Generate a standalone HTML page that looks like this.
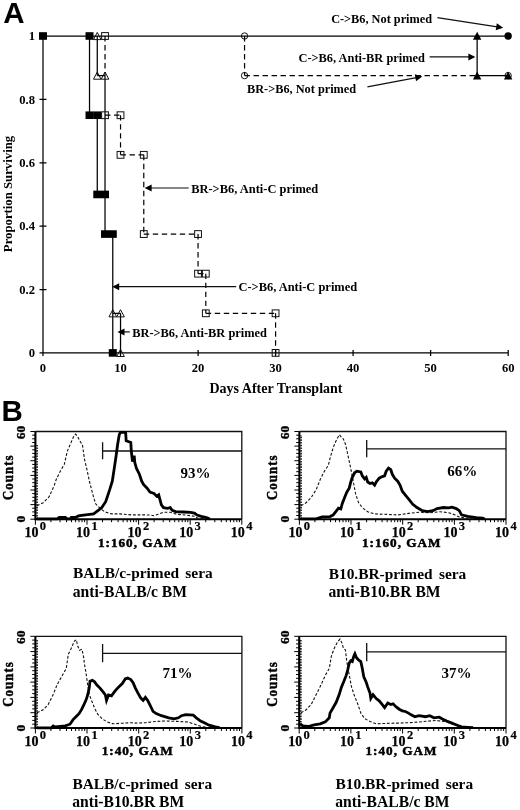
<!DOCTYPE html>
<html><head><meta charset="utf-8"><style>
html,body{margin:0;padding:0;background:#fff;}
svg{display:block;will-change:transform;}
</style></head><body>
<svg width="520" height="810" viewBox="0 0 520 810">
<rect width="520" height="810" fill="#fff"/>
<text x="3.3" y="23" font-family="Liberation Sans" font-weight="bold" font-size="29.5">A</text>
<text x="1.5" y="421" font-family="Liberation Sans" font-weight="bold" font-size="29.5">B</text>
<path d="M43.0 352.9 H508.15000000000003 M43.0 352.9 V36.0 M43.0 349.9 v6 M120.5 349.9 v6 M198.1 349.9 v6 M275.6 349.9 v6 M353.1 349.9 v6 M430.6 349.9 v6 M508.2 349.9 v6 M39.5 352.9 h7 M39.5 289.5 h7 M39.5 226.1 h7 M39.5 162.8 h7 M39.5 99.4 h7 M39.5 36.0 h7 M43.00 36.00 H508.15 M477.14 36.00 V75.61 M477.14 75.61 H508.15 M89.52 36.00 V115.22 M89.52 115.22 H97.27 M97.27 115.22 V194.45 M97.27 194.45 H105.02 M105.02 194.45 V234.06 M105.02 234.06 H112.77 M112.77 234.06 V352.90 M97.27 36.00 V75.61 M97.27 75.61 H105.02 M105.02 75.61 V234.06 M112.77 234.06 V313.29 M112.77 313.29 H120.53 M120.53 313.29 V352.90 " stroke="#000" stroke-width="1.25" fill="none"/>
<path d="M105.02 36.00 V75.61 M105.02 115.22 H120.53 M120.53 115.22 V154.84 M120.53 154.84 H143.78 M143.78 154.84 V234.06 M143.78 234.06 H198.05 M198.05 234.06 V273.67 M198.05 273.67 H205.80 M205.80 273.67 V313.29 M205.80 313.29 H275.58 M275.58 313.29 V352.90 M244.56 36.00 V75.61 M244.56 75.61 H477.14 " stroke="#000" stroke-width="1.2" fill="none" stroke-dasharray="5.4 3.6"/>
<text x="43.0" y="372.3" font-family="Liberation Serif" font-weight="bold" font-size="12.6" text-anchor="middle">0</text>
<text x="120.5" y="372.3" font-family="Liberation Serif" font-weight="bold" font-size="12.6" text-anchor="middle">10</text>
<text x="198.1" y="372.3" font-family="Liberation Serif" font-weight="bold" font-size="12.6" text-anchor="middle">20</text>
<text x="275.6" y="372.3" font-family="Liberation Serif" font-weight="bold" font-size="12.6" text-anchor="middle">30</text>
<text x="353.1" y="372.3" font-family="Liberation Serif" font-weight="bold" font-size="12.6" text-anchor="middle">40</text>
<text x="430.6" y="372.3" font-family="Liberation Serif" font-weight="bold" font-size="12.6" text-anchor="middle">50</text>
<text x="508.2" y="372.3" font-family="Liberation Serif" font-weight="bold" font-size="12.6" text-anchor="middle">60</text>
<text x="35" y="357.0" font-family="Liberation Serif" font-weight="bold" font-size="12.6" text-anchor="end">0</text>
<text x="35" y="293.6" font-family="Liberation Serif" font-weight="bold" font-size="12.6" text-anchor="end">0.2</text>
<text x="35" y="230.2" font-family="Liberation Serif" font-weight="bold" font-size="12.6" text-anchor="end">0.4</text>
<text x="35" y="166.9" font-family="Liberation Serif" font-weight="bold" font-size="12.6" text-anchor="end">0.6</text>
<text x="35" y="103.5" font-family="Liberation Serif" font-weight="bold" font-size="12.6" text-anchor="end">0.8</text>
<text x="35" y="40.1" font-family="Liberation Serif" font-weight="bold" font-size="12.6" text-anchor="end">1</text>
<text x="276" y="392.5" font-family="Liberation Serif" font-weight="bold" font-size="14" text-anchor="middle">Days After Transplant</text>
<text transform="translate(11.9 194) rotate(-90)" font-family="Liberation Serif" font-weight="bold" font-size="12.75" text-anchor="middle">Proportion Surviving</text>
<rect x="101.62" y="32.60" width="6.8" height="6.8" fill="none" stroke="#111" stroke-width="1"/>
<rect x="101.62" y="111.82" width="6.8" height="6.8" fill="none" stroke="#111" stroke-width="1"/>
<rect x="117.12" y="111.82" width="6.8" height="6.8" fill="none" stroke="#111" stroke-width="1"/>
<rect x="117.12" y="151.44" width="6.8" height="6.8" fill="none" stroke="#111" stroke-width="1"/>
<rect x="140.38" y="151.44" width="6.8" height="6.8" fill="none" stroke="#111" stroke-width="1"/>
<rect x="140.38" y="230.66" width="6.8" height="6.8" fill="none" stroke="#111" stroke-width="1"/>
<rect x="194.65" y="230.66" width="6.8" height="6.8" fill="none" stroke="#111" stroke-width="1"/>
<rect x="194.65" y="270.27" width="6.8" height="6.8" fill="none" stroke="#111" stroke-width="1"/>
<rect x="202.40" y="270.27" width="6.8" height="6.8" fill="none" stroke="#111" stroke-width="1"/>
<rect x="202.40" y="309.89" width="6.8" height="6.8" fill="none" stroke="#111" stroke-width="1"/>
<rect x="272.18" y="309.89" width="6.8" height="6.8" fill="none" stroke="#111" stroke-width="1"/>
<rect x="272.18" y="349.50" width="6.8" height="6.8" fill="none" stroke="#111" stroke-width="1"/>
<path d="M97.27 32.40 L101.07 39.60 L93.47 39.60 Z" fill="none" stroke="#111" stroke-width="1"/>
<path d="M97.27 72.01 L101.07 79.21 L93.47 79.21 Z" fill="none" stroke="#111" stroke-width="1"/>
<path d="M105.02 72.01 L108.82 79.21 L101.22 79.21 Z" fill="none" stroke="#111" stroke-width="1"/>
<path d="M112.77 309.69 L116.57 316.89 L108.97 316.89 Z" fill="none" stroke="#111" stroke-width="1"/>
<path d="M120.53 309.69 L124.33 316.89 L116.73 316.89 Z" fill="none" stroke="#111" stroke-width="1"/>
<path d="M120.53 349.30 L124.33 356.50 L116.73 356.50 Z" fill="none" stroke="#111" stroke-width="1"/>
<circle cx="244.56" cy="36.00" r="3.2" fill="none" stroke="#111" stroke-width="1"/>
<circle cx="244.56" cy="75.61" r="3.2" fill="none" stroke="#111" stroke-width="1"/>
<circle cx="508.15" cy="75.61" r="3.2" fill="none" stroke="#111" stroke-width="1"/>
<rect x="39.00" y="32.20" width="8" height="7.6" fill="#000"/>
<rect x="85.52" y="32.20" width="8" height="7.6" fill="#000"/>
<rect x="85.52" y="111.42" width="8" height="7.6" fill="#000"/>
<rect x="93.27" y="111.42" width="8" height="7.6" fill="#000"/>
<rect x="93.27" y="190.65" width="8" height="7.6" fill="#000"/>
<rect x="101.02" y="190.65" width="8" height="7.6" fill="#000"/>
<rect x="101.02" y="230.26" width="8" height="7.6" fill="#000"/>
<rect x="108.77" y="230.26" width="8" height="7.6" fill="#000"/>
<rect x="108.77" y="349.10" width="8" height="7.6" fill="#000"/>
<path d="M477.14 31.80 L481.34 39.80 L472.94 39.80 Z" fill="#000"/>
<path d="M477.14 71.41 L481.34 79.41 L472.94 79.41 Z" fill="#000"/>
<path d="M508.15 71.41 L512.35 79.41 L503.95 79.41 Z" fill="#000"/>
<circle cx="508.15" cy="36.00" r="3.7" fill="#000"/>
<path d="M437.40 17.60 L497.27 26.88" stroke="#111" stroke-width="1.2"/><path d="M503.20 27.80 L495.75 30.19 L496.82 23.27 Z" fill="#000"/>
<path d="M429.60 56.90 L469.40 56.90" stroke="#111" stroke-width="1.2"/><path d="M475.40 56.90 L468.40 60.40 L468.40 53.40 Z" fill="#000"/>
<path d="M367.40 86.80 L416.40 77.61" stroke="#111" stroke-width="1.2"/><path d="M422.30 76.50 L416.07 81.23 L414.77 74.35 Z" fill="#000"/>
<path d="M188.70 188.00 L150.60 188.00" stroke="#111" stroke-width="1.2"/><path d="M144.60 188.00 L151.60 184.50 L151.60 191.50 Z" fill="#000"/>
<path d="M236.20 286.70 L118.20 286.70" stroke="#111" stroke-width="1.2"/><path d="M112.20 286.70 L119.20 283.20 L119.20 290.20 Z" fill="#000"/>
<path d="M129.80 331.90 L123.50 331.90" stroke="#111" stroke-width="1.2"/><path d="M117.50 331.90 L124.50 328.40 L124.50 335.40 Z" fill="#000"/>
<text x="381.6" y="23.3" font-family="Liberation Serif" font-weight="bold" font-size="12.3" text-anchor="middle">C-&gt;B6, Not primed</text>
<text x="361.7" y="62" font-family="Liberation Serif" font-weight="bold" font-size="12.4" text-anchor="middle">C-&gt;B6, Anti-BR primed</text>
<text x="301.6" y="92.5" font-family="Liberation Serif" font-weight="bold" font-size="12.3" text-anchor="middle">BR-&gt;B6, Not primed</text>
<text x="254.7" y="192.9" font-family="Liberation Serif" font-weight="bold" font-size="12.45" text-anchor="middle">BR-&gt;B6, Anti-C primed</text>
<text x="297.8" y="290.6" font-family="Liberation Serif" font-weight="bold" font-size="12.45" text-anchor="middle">C-&gt;B6, Anti-C primed</text>
<text x="199.6" y="337" font-family="Liberation Serif" font-weight="bold" font-size="12.4" text-anchor="middle">BR-&gt;B6, Anti-BR primed</text>
<path d="M35.4 431.5 H241.8 V519.2" stroke="#111" stroke-width="1.3" fill="none"/>
<path d="M35.4 431.5 V519.2 H241.8" stroke="#000" stroke-width="2.1" fill="none"/>
<path d="M30.4 519.2 H35.4 M32.2 515.5 H35.4 M32.2 511.9 H35.4 M32.2 508.2 H35.4 M30.4 504.6 H35.4 M32.2 500.9 H35.4 M32.2 497.3 H35.4 M32.2 493.6 H35.4 M30.4 490.0 H35.4 M32.2 486.3 H35.4 M32.2 482.7 H35.4 M32.2 479.0 H35.4 M30.4 475.4 H35.4 M32.2 471.7 H35.4 M32.2 468.0 H35.4 M32.2 464.4 H35.4 M30.4 460.7 H35.4 M32.2 457.1 H35.4 M32.2 453.4 H35.4 M32.2 449.8 H35.4 M30.4 446.1 H35.4 M32.2 442.5 H35.4 M32.2 438.8 H35.4 M32.2 435.2 H35.4 M30.4 431.5 H35.4 M35.4 519.2 v5.5 M50.9 519.2 v3 M60.0 519.2 v3 M66.5 519.2 v3 M71.5 519.2 v3 M75.6 519.2 v3 M79.0 519.2 v3 M82.0 519.2 v3 M84.6 519.2 v3 M87.0 519.2 v5.5 M102.5 519.2 v3 M111.6 519.2 v3 M118.1 519.2 v3 M123.1 519.2 v3 M127.2 519.2 v3 M130.6 519.2 v3 M133.6 519.2 v3 M136.2 519.2 v3 M138.6 519.2 v5.5 M154.1 519.2 v3 M163.2 519.2 v3 M169.7 519.2 v3 M174.7 519.2 v3 M178.8 519.2 v3 M182.2 519.2 v3 M185.2 519.2 v3 M187.8 519.2 v3 M190.2 519.2 v5.5 M205.7 519.2 v3 M214.8 519.2 v3 M221.3 519.2 v3 M226.3 519.2 v3 M230.4 519.2 v3 M233.8 519.2 v3 M236.8 519.2 v3 M239.4 519.2 v3 M241.8 519.2 v5.5 " stroke="#000" stroke-width="1" fill="none"/>
<text x="24.4" y="537.0" font-family="Liberation Serif" font-weight="bold" font-size="14" stroke="#000" stroke-width="0.25">10</text>
<text x="39.8" y="530.2" font-family="Liberation Serif" font-weight="bold" font-size="12.5" stroke="#000" stroke-width="0.2">0</text>
<text x="76.0" y="537.0" font-family="Liberation Serif" font-weight="bold" font-size="14" stroke="#000" stroke-width="0.25">10</text>
<text x="91.4" y="530.2" font-family="Liberation Serif" font-weight="bold" font-size="12.5" stroke="#000" stroke-width="0.2">1</text>
<text x="127.6" y="537.0" font-family="Liberation Serif" font-weight="bold" font-size="14" stroke="#000" stroke-width="0.25">10</text>
<text x="143.0" y="530.2" font-family="Liberation Serif" font-weight="bold" font-size="12.5" stroke="#000" stroke-width="0.2">2</text>
<text x="179.2" y="537.0" font-family="Liberation Serif" font-weight="bold" font-size="14" stroke="#000" stroke-width="0.25">10</text>
<text x="194.6" y="530.2" font-family="Liberation Serif" font-weight="bold" font-size="12.5" stroke="#000" stroke-width="0.2">3</text>
<text x="230.8" y="537.0" font-family="Liberation Serif" font-weight="bold" font-size="14" stroke="#000" stroke-width="0.25">10</text>
<text x="246.2" y="530.2" font-family="Liberation Serif" font-weight="bold" font-size="12.5" stroke="#000" stroke-width="0.2">4</text>
<text x="137.7" y="546.6" font-family="Liberation Serif" font-weight="bold" font-size="13.2" letter-spacing="1.0" text-anchor="middle" stroke="#000" stroke-width="0.5">1:160, GAM</text>
<text transform="translate(12.8 477.2) rotate(-90) scale(1 1.1)" font-family="Liberation Serif" font-weight="bold" font-size="12.8" letter-spacing="1.1" text-anchor="middle" stroke="#000" stroke-width="0.45">Counts</text>
<text transform="translate(25.0 432.5) rotate(-90)" font-family="Liberation Serif" font-weight="bold" font-size="13.5" text-anchor="middle" stroke="#000" stroke-width="0.35">60</text>
<text transform="translate(25.0 519.2) rotate(-90)" font-family="Liberation Serif" font-weight="bold" font-size="13.5" text-anchor="middle" stroke="#000" stroke-width="0.35">0</text>
<path d="M102.6 442.2 V459.3 M102.6 451.0 H241.8" stroke="#111" stroke-width="1.3" fill="none"/>
<text x="180.5" y="477.9" font-family="Liberation Serif" font-weight="bold" font-size="15">93%</text>
<path d="M37.1 519.2 V445" stroke="#000" stroke-width="1.4" fill="none" stroke-dasharray="1.6 1.1"/>
<path d="M37.0 505.8 L43.1 502.7 L49.1 496.7 L54.2 485.6 L56.2 479.5 L60.2 471.4 L64.3 464.4 L67.3 451.3 L70.3 444.2 L73.4 437.1 L75.4 434.1 L77.4 436.1 L79.4 440.1 L82.5 445.2 L84.5 459.3 L86.5 467.4 L89.5 481.5 L92.6 493.7 L95.6 503.8 L99.6 507.8 L104.7 511.8 L111.7 513.9 L119.8 513.9 L131.9 514.9 L145.6 514.9 L150.0 515.0 L154.0 515.7 L158.1 514.3 L163.5 512.3 L170.2 512.3 L176.9 514.3 L185.0 515.0 L190.4 515.7 L194.4 516.3 L198.5 518.4 L205.0 519.0" stroke="#111" stroke-width="1.1" fill="none" stroke-dasharray="2.8 1.8"/>
<path d="M37.0 518.9 L57.2 518.9 L59.2 517.5 L65.3 517.5 L67.3 518.9 L70.3 518.9 L71.3 517.5 L75.4 517.5 L78.4 515.9 L85.5 514.9 L93.6 513.9 L97.6 510.8 L101.6 507.8 L105.7 501.7 L109.7 489.6 L112.3 481.1 L114.6 466.1 L116.3 454.5 L117.5 445.3 L119.2 434.9 L120.4 432.3 L125.6 432.3 L126.2 440.7 L130.8 442.4 L131.3 451.1 L132.5 461.5 L134.2 455.7 L134.8 462.6 L136.5 468.4 L139.4 474.2 L141.7 481.1 L143.5 484.5 L146.9 488.0 L150.0 492.1 L154.0 493.5 L156.7 496.2 L158.7 494.8 L160.1 500.2 L161.4 504.9 L163.5 507.6 L167.5 508.3 L170.2 507.6 L172.2 510.3 L175.6 511.6 L183.6 512.0 L190.4 512.3 L194.4 513.0 L197.1 515.0 L201.1 516.3 L206.5 517.7 L209.9 519.0" stroke="#000" stroke-width="2.8" fill="none" stroke-linejoin="miter"/>
<text x="73.0" y="578.3" font-family="Liberation Serif" font-weight="bold" font-size="15.4" word-spacing="2.5">BALB/c-primed sera</text>
<text x="72.8" y="596.9" font-family="Liberation Serif" font-weight="bold" font-size="15.65">anti-BALB/c BM</text>
<path d="M299.4 431.5 H506 V519.2" stroke="#111" stroke-width="1.3" fill="none"/>
<path d="M299.4 431.5 V519.2 H506" stroke="#000" stroke-width="2.1" fill="none"/>
<path d="M294.4 519.2 H299.4 M296.2 515.5 H299.4 M296.2 511.9 H299.4 M296.2 508.2 H299.4 M294.4 504.6 H299.4 M296.2 500.9 H299.4 M296.2 497.3 H299.4 M296.2 493.6 H299.4 M294.4 490.0 H299.4 M296.2 486.3 H299.4 M296.2 482.7 H299.4 M296.2 479.0 H299.4 M294.4 475.4 H299.4 M296.2 471.7 H299.4 M296.2 468.0 H299.4 M296.2 464.4 H299.4 M294.4 460.7 H299.4 M296.2 457.1 H299.4 M296.2 453.4 H299.4 M296.2 449.8 H299.4 M294.4 446.1 H299.4 M296.2 442.5 H299.4 M296.2 438.8 H299.4 M296.2 435.2 H299.4 M294.4 431.5 H299.4 M299.4 519.2 v5.5 M314.9 519.2 v3 M324.0 519.2 v3 M330.5 519.2 v3 M335.5 519.2 v3 M339.6 519.2 v3 M343.0 519.2 v3 M346.0 519.2 v3 M348.7 519.2 v3 M351.0 519.2 v5.5 M366.6 519.2 v3 M375.7 519.2 v3 M382.1 519.2 v3 M387.2 519.2 v3 M391.2 519.2 v3 M394.7 519.2 v3 M397.7 519.2 v3 M400.3 519.2 v3 M402.7 519.2 v5.5 M418.2 519.2 v3 M427.3 519.2 v3 M433.8 519.2 v3 M438.8 519.2 v3 M442.9 519.2 v3 M446.3 519.2 v3 M449.3 519.2 v3 M452.0 519.2 v3 M454.4 519.2 v5.5 M469.9 519.2 v3 M479.0 519.2 v3 M485.4 519.2 v3 M490.5 519.2 v3 M494.5 519.2 v3 M498.0 519.2 v3 M501.0 519.2 v3 M503.6 519.2 v3 M506 519.2 v5.5 " stroke="#000" stroke-width="1" fill="none"/>
<text x="288.4" y="537.0" font-family="Liberation Serif" font-weight="bold" font-size="14" stroke="#000" stroke-width="0.25">10</text>
<text x="303.8" y="530.2" font-family="Liberation Serif" font-weight="bold" font-size="12.5" stroke="#000" stroke-width="0.2">0</text>
<text x="340.0" y="537.0" font-family="Liberation Serif" font-weight="bold" font-size="14" stroke="#000" stroke-width="0.25">10</text>
<text x="355.4" y="530.2" font-family="Liberation Serif" font-weight="bold" font-size="12.5" stroke="#000" stroke-width="0.2">1</text>
<text x="391.7" y="537.0" font-family="Liberation Serif" font-weight="bold" font-size="14" stroke="#000" stroke-width="0.25">10</text>
<text x="407.1" y="530.2" font-family="Liberation Serif" font-weight="bold" font-size="12.5" stroke="#000" stroke-width="0.2">2</text>
<text x="443.4" y="537.0" font-family="Liberation Serif" font-weight="bold" font-size="14" stroke="#000" stroke-width="0.25">10</text>
<text x="458.8" y="530.2" font-family="Liberation Serif" font-weight="bold" font-size="12.5" stroke="#000" stroke-width="0.2">3</text>
<text x="495.0" y="537.0" font-family="Liberation Serif" font-weight="bold" font-size="14" stroke="#000" stroke-width="0.25">10</text>
<text x="510.4" y="530.2" font-family="Liberation Serif" font-weight="bold" font-size="12.5" stroke="#000" stroke-width="0.2">4</text>
<text x="401.7" y="546.6" font-family="Liberation Serif" font-weight="bold" font-size="13.2" letter-spacing="1.0" text-anchor="middle" stroke="#000" stroke-width="0.5">1:160, GAM</text>
<text transform="translate(276.8 477.2) rotate(-90) scale(1 1.1)" font-family="Liberation Serif" font-weight="bold" font-size="12.8" letter-spacing="1.1" text-anchor="middle" stroke="#000" stroke-width="0.45">Counts</text>
<text transform="translate(289.0 432.5) rotate(-90)" font-family="Liberation Serif" font-weight="bold" font-size="13.5" text-anchor="middle" stroke="#000" stroke-width="0.35">60</text>
<text transform="translate(289.0 519.2) rotate(-90)" font-family="Liberation Serif" font-weight="bold" font-size="13.5" text-anchor="middle" stroke="#000" stroke-width="0.35">0</text>
<path d="M366.7 440.1 V457.3 M366.7 448.8 H506" stroke="#111" stroke-width="1.3" fill="none"/>
<text x="447.3" y="475.8" font-family="Liberation Serif" font-weight="bold" font-size="15">66%</text>
<path d="M301.1 519.2 V435" stroke="#000" stroke-width="1.4" fill="none" stroke-dasharray="1.6 1.1"/>
<path d="M301.0 505.8 L306.1 502.7 L311.1 497.7 L316.2 489.6 L320.2 479.5 L324.3 471.4 L328.3 465.4 L330.3 457.3 L333.3 447.2 L336.4 440.1 L339.4 434.7 L341.4 437.1 L343.4 439.1 L345.5 444.2 L347.5 453.3 L350.1 465.4 L352.5 477.5 L355.6 493.7 L358.6 502.7 L362.6 507.8 L367.7 511.8 L374.7 513.9 L384.8 514.3 L398.0 514.9 L408.6 513.4 L419.2 512.2 L429.7 512.8 L440.3 511.7 L448.8 512.8 L455.1 514.9 L459.3 517.0 L465.7 518.1 L472.0 519.0" stroke="#111" stroke-width="1.1" fill="none" stroke-dasharray="2.8 1.8"/>
<path d="M301.0 518.9 L316.2 518.9 L322.2 516.9 L330.0 516.6 L333.1 515.1 L336.2 511.2 L338.5 508.2 L340.8 508.9 L342.3 503.5 L344.6 497.4 L346.9 492.0 L349.2 488.2 L350.8 482.0 L352.3 477.4 L354.6 472.8 L356.9 471.2 L360.8 472.0 L362.3 475.8 L364.6 478.9 L366.2 477.4 L367.7 482.0 L370.0 483.5 L372.3 482.8 L374.6 485.1 L376.2 482.0 L379.2 478.2 L382.3 476.6 L384.6 475.8 L386.2 471.2 L388.5 468.2 L390.8 469.7 L392.3 474.3 L394.6 478.2 L397.7 481.2 L400.0 485.1 L402.3 491.2 L405.4 495.1 L408.5 498.9 L412.8 504.3 L417.0 507.5 L422.3 510.7 L427.6 511.7 L432.9 510.7 L437.1 508.6 L443.5 507.5 L448.8 507.9 L451.9 507.1 L456.2 508.6 L459.3 510.7 L461.5 514.9 L467.8 516.4 L476.3 517.7 L482.6 518.1 L484.7 519.1" stroke="#000" stroke-width="2.8" fill="none" stroke-linejoin="miter"/>
<text x="328.7" y="578.5" font-family="Liberation Serif" font-weight="bold" font-size="15.4" word-spacing="2.5">B10.BR-primed sera</text>
<text x="328.5" y="596.9" font-family="Liberation Serif" font-weight="bold" font-size="15.65">anti-B10.BR BM</text>
<path d="M35.4 636.3 H241.9 V728" stroke="#111" stroke-width="1.3" fill="none"/>
<path d="M35.4 636.3 V728 H241.9" stroke="#000" stroke-width="2.1" fill="none"/>
<path d="M30.4 728.0 H35.4 M32.2 724.2 H35.4 M32.2 720.4 H35.4 M32.2 716.5 H35.4 M30.4 712.7 H35.4 M32.2 708.9 H35.4 M32.2 705.1 H35.4 M32.2 701.3 H35.4 M30.4 697.4 H35.4 M32.2 693.6 H35.4 M32.2 689.8 H35.4 M32.2 686.0 H35.4 M30.4 682.1 H35.4 M32.2 678.3 H35.4 M32.2 674.5 H35.4 M32.2 670.7 H35.4 M30.4 666.9 H35.4 M32.2 663.0 H35.4 M32.2 659.2 H35.4 M32.2 655.4 H35.4 M30.4 651.6 H35.4 M32.2 647.8 H35.4 M32.2 643.9 H35.4 M32.2 640.1 H35.4 M30.4 636.3 H35.4 M35.4 728 v5.5 M50.9 728 v3 M60.0 728 v3 M66.5 728 v3 M71.5 728 v3 M75.6 728 v3 M79.0 728 v3 M82.0 728 v3 M84.7 728 v3 M87.0 728 v5.5 M102.6 728 v3 M111.7 728 v3 M118.1 728 v3 M123.1 728 v3 M127.2 728 v3 M130.7 728 v3 M133.6 728 v3 M136.3 728 v3 M138.7 728 v5.5 M154.2 728 v3 M163.3 728 v3 M169.7 728 v3 M174.7 728 v3 M178.8 728 v3 M182.3 728 v3 M185.3 728 v3 M187.9 728 v3 M190.3 728 v5.5 M205.8 728 v3 M214.9 728 v3 M221.4 728 v3 M226.4 728 v3 M230.4 728 v3 M233.9 728 v3 M236.9 728 v3 M239.5 728 v3 M241.9 728 v5.5 " stroke="#000" stroke-width="1" fill="none"/>
<text x="24.4" y="745.8" font-family="Liberation Serif" font-weight="bold" font-size="14" stroke="#000" stroke-width="0.25">10</text>
<text x="39.8" y="739.0" font-family="Liberation Serif" font-weight="bold" font-size="12.5" stroke="#000" stroke-width="0.2">0</text>
<text x="76.0" y="745.8" font-family="Liberation Serif" font-weight="bold" font-size="14" stroke="#000" stroke-width="0.25">10</text>
<text x="91.4" y="739.0" font-family="Liberation Serif" font-weight="bold" font-size="12.5" stroke="#000" stroke-width="0.2">1</text>
<text x="127.7" y="745.8" font-family="Liberation Serif" font-weight="bold" font-size="14" stroke="#000" stroke-width="0.25">10</text>
<text x="143.1" y="739.0" font-family="Liberation Serif" font-weight="bold" font-size="12.5" stroke="#000" stroke-width="0.2">2</text>
<text x="179.3" y="745.8" font-family="Liberation Serif" font-weight="bold" font-size="14" stroke="#000" stroke-width="0.25">10</text>
<text x="194.7" y="739.0" font-family="Liberation Serif" font-weight="bold" font-size="12.5" stroke="#000" stroke-width="0.2">3</text>
<text x="230.9" y="745.8" font-family="Liberation Serif" font-weight="bold" font-size="14" stroke="#000" stroke-width="0.25">10</text>
<text x="246.3" y="739.0" font-family="Liberation Serif" font-weight="bold" font-size="12.5" stroke="#000" stroke-width="0.2">4</text>
<text x="137.7" y="755.4" font-family="Liberation Serif" font-weight="bold" font-size="13.2" letter-spacing="1.0" text-anchor="middle" stroke="#000" stroke-width="0.5">1:40, GAM</text>
<text transform="translate(12.8 683.9) rotate(-90) scale(1 1.1)" font-family="Liberation Serif" font-weight="bold" font-size="12.8" letter-spacing="1.1" text-anchor="middle" stroke="#000" stroke-width="0.45">Counts</text>
<text transform="translate(25.0 637.3) rotate(-90)" font-family="Liberation Serif" font-weight="bold" font-size="13.5" text-anchor="middle" stroke="#000" stroke-width="0.35">60</text>
<text transform="translate(25.0 728.0) rotate(-90)" font-family="Liberation Serif" font-weight="bold" font-size="13.5" text-anchor="middle" stroke="#000" stroke-width="0.35">0</text>
<path d="M102.6 644.1 V662.3 M102.6 653.3 H241.9" stroke="#111" stroke-width="1.3" fill="none"/>
<text x="162.5" y="677.6" font-family="Liberation Serif" font-weight="bold" font-size="15">71%</text>
<path d="M37.1 728.0 V640" stroke="#000" stroke-width="1.4" fill="none" stroke-dasharray="1.6 1.1"/>
<path d="M37.0 712.8 L43.1 709.8 L48.1 704.7 L53.2 694.6 L57.2 684.5 L62.3 675.4 L66.3 668.4 L68.3 654.2 L71.3 648.2 L74.4 641.1 L76.4 639.7 L77.4 645.1 L79.4 650.2 L81.9 649.2 L83.5 656.3 L84.6 665.0 L86.2 674.2 L87.7 685.0 L89.2 694.2 L91.5 700.4 L94.6 708.1 L97.7 714.2 L102.3 718.8 L106.9 721.9 L113.1 723.8 L122.3 723.2 L131.5 722.7 L135.0 723.1 L145.6 722.7 L156.2 721.4 L166.7 721.0 L177.3 721.4 L187.9 722.0 L194.2 724.1 L200.6 726.3 L208.0 727.6" stroke="#111" stroke-width="1.1" fill="none" stroke-dasharray="2.8 1.8"/>
<path d="M37.0 727.9 L51.2 727.9 L53.2 725.9 L55.2 726.9 L65.3 725.9 L70.0 724.2 L73.1 719.6 L76.2 716.5 L79.2 713.5 L81.5 709.6 L83.8 705.0 L86.2 699.6 L87.7 695.0 L89.2 688.1 L90.0 681.2 L92.3 680.4 L94.6 681.9 L96.9 685.0 L100.0 688.1 L103.1 691.9 L105.4 695.0 L106.5 700.4 L108.5 695.0 L111.5 695.8 L113.8 692.7 L116.2 689.6 L119.2 686.5 L122.3 683.5 L125.4 678.8 L127.7 678.1 L130.8 679.6 L133.1 682.7 L135.4 688.1 L137.7 692.7 L140.8 698.1 L143.1 700.4 L145.4 697.3 L147.7 700.4 L150.0 705.0 L153.0 711.4 L156.2 713.6 L161.4 715.7 L168.8 717.8 L174.1 718.9 L178.4 717.8 L181.5 715.7 L185.8 714.6 L193.2 715.0 L196.3 717.8 L200.6 721.0 L204.8 723.1 L209.0 725.2 L215.4 726.9 L219.6 727.7" stroke="#000" stroke-width="2.8" fill="none" stroke-linejoin="miter"/>
<text x="72.4" y="789.2" font-family="Liberation Serif" font-weight="bold" font-size="15.4" word-spacing="2.5">BALB/c-primed sera</text>
<text x="72.2" y="806.8" font-family="Liberation Serif" font-weight="bold" font-size="15.65">anti-B10.BR BM</text>
<path d="M299.2 636.3 H506 V728" stroke="#111" stroke-width="1.3" fill="none"/>
<path d="M299.2 636.3 V728 H506" stroke="#000" stroke-width="2.1" fill="none"/>
<path d="M294.2 728.0 H299.2 M296.0 724.2 H299.2 M296.0 720.4 H299.2 M296.0 716.5 H299.2 M294.2 712.7 H299.2 M296.0 708.9 H299.2 M296.0 705.1 H299.2 M296.0 701.3 H299.2 M294.2 697.4 H299.2 M296.0 693.6 H299.2 M296.0 689.8 H299.2 M296.0 686.0 H299.2 M294.2 682.1 H299.2 M296.0 678.3 H299.2 M296.0 674.5 H299.2 M296.0 670.7 H299.2 M294.2 666.9 H299.2 M296.0 663.0 H299.2 M296.0 659.2 H299.2 M296.0 655.4 H299.2 M294.2 651.6 H299.2 M296.0 647.8 H299.2 M296.0 643.9 H299.2 M296.0 640.1 H299.2 M294.2 636.3 H299.2 M299.2 728 v5.5 M314.8 728 v3 M323.9 728 v3 M330.3 728 v3 M335.3 728 v3 M339.4 728 v3 M342.9 728 v3 M345.9 728 v3 M348.5 728 v3 M350.9 728 v5.5 M366.5 728 v3 M375.6 728 v3 M382.0 728 v3 M387.0 728 v3 M391.1 728 v3 M394.6 728 v3 M397.6 728 v3 M400.2 728 v3 M402.6 728 v5.5 M418.2 728 v3 M427.3 728 v3 M433.7 728 v3 M438.7 728 v3 M442.8 728 v3 M446.3 728 v3 M449.3 728 v3 M451.9 728 v3 M454.3 728 v5.5 M469.9 728 v3 M479.0 728 v3 M485.4 728 v3 M490.4 728 v3 M494.5 728 v3 M498.0 728 v3 M501.0 728 v3 M503.6 728 v3 M506 728 v5.5 " stroke="#000" stroke-width="1" fill="none"/>
<text x="288.2" y="745.8" font-family="Liberation Serif" font-weight="bold" font-size="14" stroke="#000" stroke-width="0.25">10</text>
<text x="303.6" y="739.0" font-family="Liberation Serif" font-weight="bold" font-size="12.5" stroke="#000" stroke-width="0.2">0</text>
<text x="339.9" y="745.8" font-family="Liberation Serif" font-weight="bold" font-size="14" stroke="#000" stroke-width="0.25">10</text>
<text x="355.3" y="739.0" font-family="Liberation Serif" font-weight="bold" font-size="12.5" stroke="#000" stroke-width="0.2">1</text>
<text x="391.6" y="745.8" font-family="Liberation Serif" font-weight="bold" font-size="14" stroke="#000" stroke-width="0.25">10</text>
<text x="407.0" y="739.0" font-family="Liberation Serif" font-weight="bold" font-size="12.5" stroke="#000" stroke-width="0.2">2</text>
<text x="443.3" y="745.8" font-family="Liberation Serif" font-weight="bold" font-size="14" stroke="#000" stroke-width="0.25">10</text>
<text x="458.7" y="739.0" font-family="Liberation Serif" font-weight="bold" font-size="12.5" stroke="#000" stroke-width="0.2">3</text>
<text x="495.0" y="745.8" font-family="Liberation Serif" font-weight="bold" font-size="14" stroke="#000" stroke-width="0.25">10</text>
<text x="510.4" y="739.0" font-family="Liberation Serif" font-weight="bold" font-size="12.5" stroke="#000" stroke-width="0.2">4</text>
<text x="401.5" y="755.4" font-family="Liberation Serif" font-weight="bold" font-size="13.2" letter-spacing="1.0" text-anchor="middle" stroke="#000" stroke-width="0.5">1:40, GAM</text>
<text transform="translate(276.6 683.9) rotate(-90) scale(1 1.1)" font-family="Liberation Serif" font-weight="bold" font-size="12.8" letter-spacing="1.1" text-anchor="middle" stroke="#000" stroke-width="0.45">Counts</text>
<text transform="translate(288.8 637.3) rotate(-90)" font-family="Liberation Serif" font-weight="bold" font-size="13.5" text-anchor="middle" stroke="#000" stroke-width="0.35">60</text>
<text transform="translate(288.8 728.0) rotate(-90)" font-family="Liberation Serif" font-weight="bold" font-size="13.5" text-anchor="middle" stroke="#000" stroke-width="0.35">0</text>
<path d="M366.7 643.1 V661.3 M366.7 651.8 H506" stroke="#111" stroke-width="1.3" fill="none"/>
<text x="441.4" y="678.2" font-family="Liberation Serif" font-weight="bold" font-size="15">37%</text>
<path d="M300.9 728.0 V640" stroke="#000" stroke-width="1.4" fill="none" stroke-dasharray="1.6 1.1"/>
<path d="M301.0 712.8 L306.1 709.8 L311.1 704.7 L316.2 694.6 L321.2 684.5 L325.3 675.4 L329.3 668.4 L331.3 656.3 L334.3 648.2 L337.4 642.1 L340.0 639.1 L342.0 643.1 L343.4 648.2 L345.4 650.0 L346.9 662.3 L349.2 674.6 L351.5 686.9 L354.6 696.2 L357.7 703.8 L360.8 713.1 L364.6 718.5 L370.0 721.5 L376.2 723.8 L383.8 723.5 L394.6 723.1 L398.0 723.1 L408.6 722.7 L419.2 722.0 L429.7 721.0 L436.1 720.5 L444.5 721.4 L453.0 724.1 L459.3 726.3 L466.0 727.6" stroke="#111" stroke-width="1.1" fill="none" stroke-dasharray="2.8 1.8"/>
<path d="M300.0 723.9 L303.0 725.9 L308.1 726.5 L314.2 724.9 L320.2 723.9 L325.3 721.9 L329.3 717.8 L330.0 713.1 L333.1 707.7 L336.2 702.3 L339.2 694.6 L341.5 686.9 L343.8 681.5 L346.2 675.4 L347.7 670.0 L349.2 663.1 L350.8 660.8 L352.3 661.5 L353.8 656.2 L354.9 653.8 L356.5 657.7 L358.5 660.0 L360.8 661.5 L362.3 668.5 L363.8 676.9 L366.2 682.3 L367.7 686.9 L370.0 693.1 L370.8 698.5 L373.1 694.6 L376.2 698.5 L379.2 700.8 L382.3 704.6 L384.6 707.7 L387.7 703.1 L390.8 704.6 L393.1 703.8 L396.2 706.9 L399.2 709.2 L402.3 710.8 L405.4 711.5 L408.5 713.1 L410.7 714.6 L414.9 716.7 L419.2 715.7 L425.5 716.7 L429.7 715.7 L434.0 717.8 L439.3 717.2 L442.4 718.9 L446.7 721.0 L451.9 723.1 L457.2 725.2 L461.5 726.9 L467.8 727.3 L473.1 727.7" stroke="#000" stroke-width="2.8" fill="none" stroke-linejoin="miter"/>
<text x="335.5" y="789.2" font-family="Liberation Serif" font-weight="bold" font-size="15.4" word-spacing="2.5">B10.BR-primed sera</text>
<text x="335.3" y="807.1" font-family="Liberation Serif" font-weight="bold" font-size="15.65">anti-BALB/c BM</text>
</svg>
</body></html>
